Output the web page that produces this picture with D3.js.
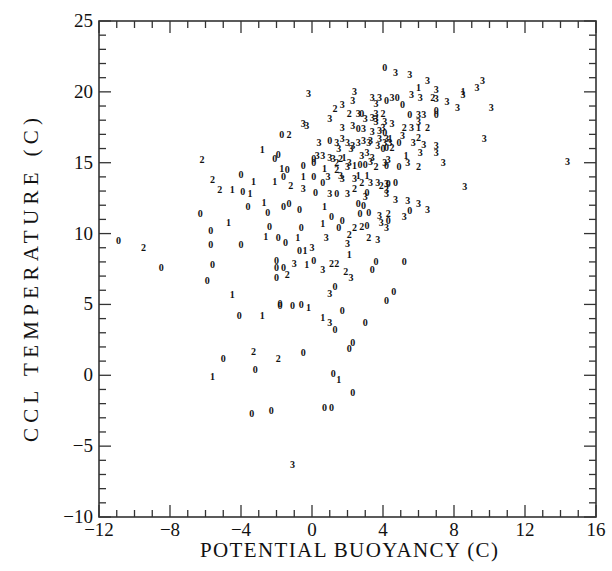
<!DOCTYPE html>
<html lang="en">
<head>
  <meta charset="UTF-8">
  <title>CCL temperature vs potential buoyancy</title>
  <script src="https://cdn.jsdelivr.net/npm/d3@7/dist/d3.min.js"></script>
  <style>
    body { margin: 0; background: #fff; }
    svg { display: block; }
    .tick-label { font-family: "Liberation Serif", "DejaVu Serif", serif; font-size: 19px; fill: #111; }
    .title { font-family: "Liberation Serif", "DejaVu Serif", serif; font-size: 21px; fill: #111; }
    .pt { font-family: "Liberation Serif", "DejaVu Serif", serif; font-size: 10px; font-weight: bold; fill: #111; }
  </style>
</head>
<body>
<script>
  // points by class label, [potential buoyancy, CCL temperature]
  const class0 = [
    [-10.9, 9.5], [-8.5, 7.6], [-6.3, 11.4], [-3.9, 13.0], [-4.0, 14.2], [-1.6, 14.0], [-1.4, 14.5],
    [-2.1, 15.3], [-1.9, 15.6], [-1.7, 17.0], [-3.6, 11.9], [-2.5, 11.5], [-1.6, 11.9], [-1.3, 12.1],
    [-0.7, 11.7], [-5.7, 10.2], [-2.4, 10.5], [-0.6, 10.4], [-1.9, 9.7], [-1.5, 9.4], [-5.7, 9.2],
    [-4.0, 9.2], [-5.6, 7.8], [-5.9, 6.7], [-2.0, 8.1], [-2.0, 7.6], [-2.0, 6.9], [-1.6, 7.6],
    [-1.8, 5.1], [-1.8, 4.9], [-1.1, 4.9], [-0.6, 5.0], [-4.1, 4.2], [-5.0, 1.2], [-0.5, 1.6],
    [-3.2, 0.4], [-3.4, -2.7], [-2.3, -2.5], [0.1, 8.1], [3.4, 7.5], [3.6, 8.0], [5.2, 8.0],
    [1.3, 6.3], [4.2, 5.3], [4.6, 5.9], [1.7, 4.6], [1.3, 3.2], [3.0, 3.7], [2.1, 1.9], [2.3, 2.3],
    [1.2, 0.1], [2.3, -1.2], [0.7, -2.3], [1.1, -2.3], [-0.5, 14.8], [2.7, 14.9], [3.0, 14.9],
    [0.1, 14.0], [0.6, 13.6], [4.3, 13.5], [0.2, 12.9], [1.4, 12.8], [3.1, 12.9], [2.6, 12.1],
    [2.9, 12.0], [3.2, 11.5], [2.7, 11.4], [4.3, 10.9], [1.1, 11.2], [1.5, 10.4], [1.7, 10.9],
    [3.1, 10.6], [-0.7, 8.8], [4.9, 14.7], [4.7, 13.6], [5.5, 11.6], [4.1, 21.7], [4.2, 19.4],
    [4.8, 19.6], [5.1, 19.1], [2.8, 18.5], [2.6, 17.4], [1.0, 16.6], [0.1, 15.3], [4.0, 16.0],
    [4.2, 16.1], [4.9, 16.4], [0.1, 15.0], [4.2, 14.8], [7.0, 18.7], [7.0, 18.4], [5.5, 18.4],
    [4.1, 17.1]
  ];
  const class1 = [
    [-4.5, 13.1], [-3.5, 12.8], [-3.3, 13.7], [-2.1, 13.7], [-1.7, 14.6], [-2.8, 15.9], [-2.7, 12.2],
    [-4.7, 10.8], [-2.6, 9.8], [-0.8, 9.7], [-4.5, 5.7], [-0.2, 4.8], [-2.8, 4.2], [-5.6, -0.1],
    [-0.3, 7.8], [0.6, 4.1], [1.5, -0.3], [0.7, 14.6], [2.4, 14.8], [-0.5, 14.0], [2.6, 14.1],
    [3.1, 14.1], [0.7, 11.9], [0.6, 10.7], [-0.4, 8.8], [2.1, 8.5], [8.5, 20.0], [6.0, 20.3],
    [6.0, 17.5], [1.8, 15.4], [4.4, 16.7], [5.3, 15.5]
  ];
  const class2 = [
    [-9.5, 9.0], [-6.2, 15.2], [-5.6, 13.8], [-5.2, 13.1], [-1.2, 13.4], [-1.3, 17.0], [-1.4, 7.1],
    [-3.3, 1.7], [-1.9, 1.2], [1.1, 7.9], [1.4, 7.9], [1.9, 7.3], [1.4, 14.5], [3.6, 14.7],
    [2.8, 13.6], [3.9, 13.4], [2.4, 13.2], [4.3, 11.4], [2.4, 10.4], [2.8, 10.5], [2.1, 9.9],
    [3.2, 9.7], [6.0, 14.7], [6.8, 19.6], [5.2, 17.5], [6.5, 17.5], [6.0, 16.8], [1.3, 18.8],
    [2.1, 18.5], [4.0, 18.5], [4.5, 16.1], [1.4, 15.0], [1.6, 15.3]
  ];
  const class3 = [
    [-1.0, 7.9], [-1.1, -6.3], [0.6, 7.5], [2.2, 6.9], [1.0, 5.8], [1.0, 3.7], [2.0, 14.7],
    [4.1, 15.0], [4.3, 15.2], [0.9, 14.0], [1.7, 13.9], [2.4, 13.9], [3.3, 13.6], [3.7, 13.6],
    [4.2, 13.5], [-0.5, 13.2], [1.0, 12.8], [2.0, 12.8], [3.0, 12.6], [4.2, 12.8], [4.2, 13.1],
    [3.8, 11.3], [3.9, 10.8], [4.2, 10.4], [0.8, 9.7], [2.0, 9.3], [3.7, 9.6], [0.0, 9.0],
    [5.4, 15.0], [7.4, 15.0], [8.6, 13.3], [5.4, 12.3], [6.0, 12.1], [6.5, 11.7], [5.2, 11.2],
    [14.4, 15.1], [9.7, 16.7], [5.5, 21.2], [6.5, 20.8], [9.6, 20.8], [9.3, 20.3], [8.5, 19.8],
    [5.6, 19.8], [6.1, 19.6], [7.0, 20.2], [7.0, 19.5], [7.6, 19.3], [8.2, 18.9], [10.1, 18.9],
    [6.0, 18.4], [6.3, 18.4], [6.0, 17.9], [5.6, 17.5], [5.1, 16.9], [5.7, 16.4], [6.3, 16.3],
    [6.1, 15.7], [7.0, 16.2], [7.0, 15.7], [-0.2, 19.9], [2.4, 20.0], [2.3, 19.4], [3.4, 19.6],
    [3.6, 19.2], [3.8, 19.6], [4.5, 19.6], [1.7, 19.1], [2.6, 18.5], [3.0, 18.1], [3.4, 18.2],
    [3.6, 17.9], [1.0, 18.1], [-0.5, 17.8], [-0.3, 17.6], [1.7, 17.5], [2.3, 17.6], [2.9, 17.4],
    [3.4, 17.2], [3.8, 17.3], [4.0, 17.5], [0.4, 16.4], [1.4, 16.4], [1.7, 16.7], [2.0, 16.4],
    [2.3, 16.2], [2.6, 16.4], [2.9, 16.6], [3.3, 16.6], [3.2, 16.4], [0.3, 15.5], [0.6, 15.5],
    [1.2, 15.3], [2.8, 15.5], [3.1, 15.7], [3.4, 15.4], [3.7, 16.2], [4.1, 16.4], [4.4, 16.4],
    [3.6, 18.5], [3.6, 18.1], [4.1, 17.9], [4.5, 17.8], [3.8, 16.7], [4.2, 16.7], [1.5, 16.0],
    [2.2, 16.0], [1.0, 15.4], [2.1, 15.0], [3.3, 15.1], [1.6, 14.1], [4.7, 12.4], [4.7, 21.4]
  ];
  const classes = ["0", "1", "2", "3"];

  const xTicks = [-12, -8, -4, 0, 4, 8, 12, 16];
  const yTicks = [-10, -5, 0, 5, 10, 15, 20, 25];
  const xTitle = "POTENTIAL BUOYANCY (C)";
  const yTitle = "CCL TEMPERATURE (C)";

  const W = 612, H = 571;
  const plotL = 99, plotR = 596, plotT = 21, plotB = 517;
  const ink = '#333';

  const x = d3.scaleLinear().domain([-12, 16]).range([plotL, plotR]);
  const y = d3.scaleLinear().domain([-10, 25]).range([plotB, plotT]);

  const svg = d3.select('body').append('svg')
    .attr('width', W)
    .attr('height', H);

  const fmt = v => (v < 0 ? "\u2212" + Math.abs(v) : "" + v);

  // frame
  svg.append('rect')
    .attr('x', plotL).attr('y', plotT)
    .attr('width', plotR - plotL).attr('height', plotB - plotT)
    .attr('fill', 'none').attr('stroke', ink).attr('stroke-width', 1.6);

  // minor ticks every unit, major every 4 (x) / 5 (y), all pointing inward
  const tickG = svg.append('g').attr('stroke', ink).attr('stroke-width', 1.3);
  d3.range(-12, 16.01, 1).forEach(v => {
    const len = xTicks.includes(v) ? 12 : 7;
    tickG.append('line').attr('x1', x(v)).attr('x2', x(v)).attr('y1', plotB).attr('y2', plotB - len);
    tickG.append('line').attr('x1', x(v)).attr('x2', x(v)).attr('y1', plotT).attr('y2', plotT + len);
  });
  d3.range(-10, 25.01, 1).forEach(v => {
    const len = yTicks.includes(v) ? 12 : 7;
    tickG.append('line').attr('y1', y(v)).attr('y2', y(v)).attr('x1', plotL).attr('x2', plotL + len);
    tickG.append('line').attr('y1', y(v)).attr('y2', y(v)).attr('x1', plotR).attr('x2', plotR - len);
  });

  // tick labels
  svg.selectAll('.xl').data(xTicks).enter().append('text')
    .attr('class', 'tick-label')
    .attr('x', d => x(d))
    .attr('y', plotB + 19)
    .attr('text-anchor', 'middle')
    .text(fmt);

  svg.selectAll('.yl').data(yTicks).enter().append('text')
    .attr('class', 'tick-label')
    .attr('x', plotL - 6)
    .attr('y', d => y(d) + 6)
    .attr('text-anchor', 'end')
    .text(fmt);

  // axis titles
  svg.append('text')
    .attr('class', 'title')
    .attr('x', 200).attr('y', 557)
    .attr('textLength', 298)
    .text(xTitle);

  svg.append('text')
    .attr('class', 'title')
    .attr('transform', 'translate(38,442) rotate(-90)')
    .attr('textLength', 324)
    .text(yTitle);

  // points drawn as their class digit
  const sets = [class0, class1, class2, class3];
  sets.forEach((pts, i) => {
    svg.append('g').selectAll('text').data(pts).enter().append('text')
      .attr('class', 'pt')
      .attr('x', d => x(d[0]))
      .attr('y', d => y(d[1]))
      .attr('dy', '0.35em')
      .attr('text-anchor', 'middle')
      .text(classes[i]);
  });
</script>
</body>
</html>
